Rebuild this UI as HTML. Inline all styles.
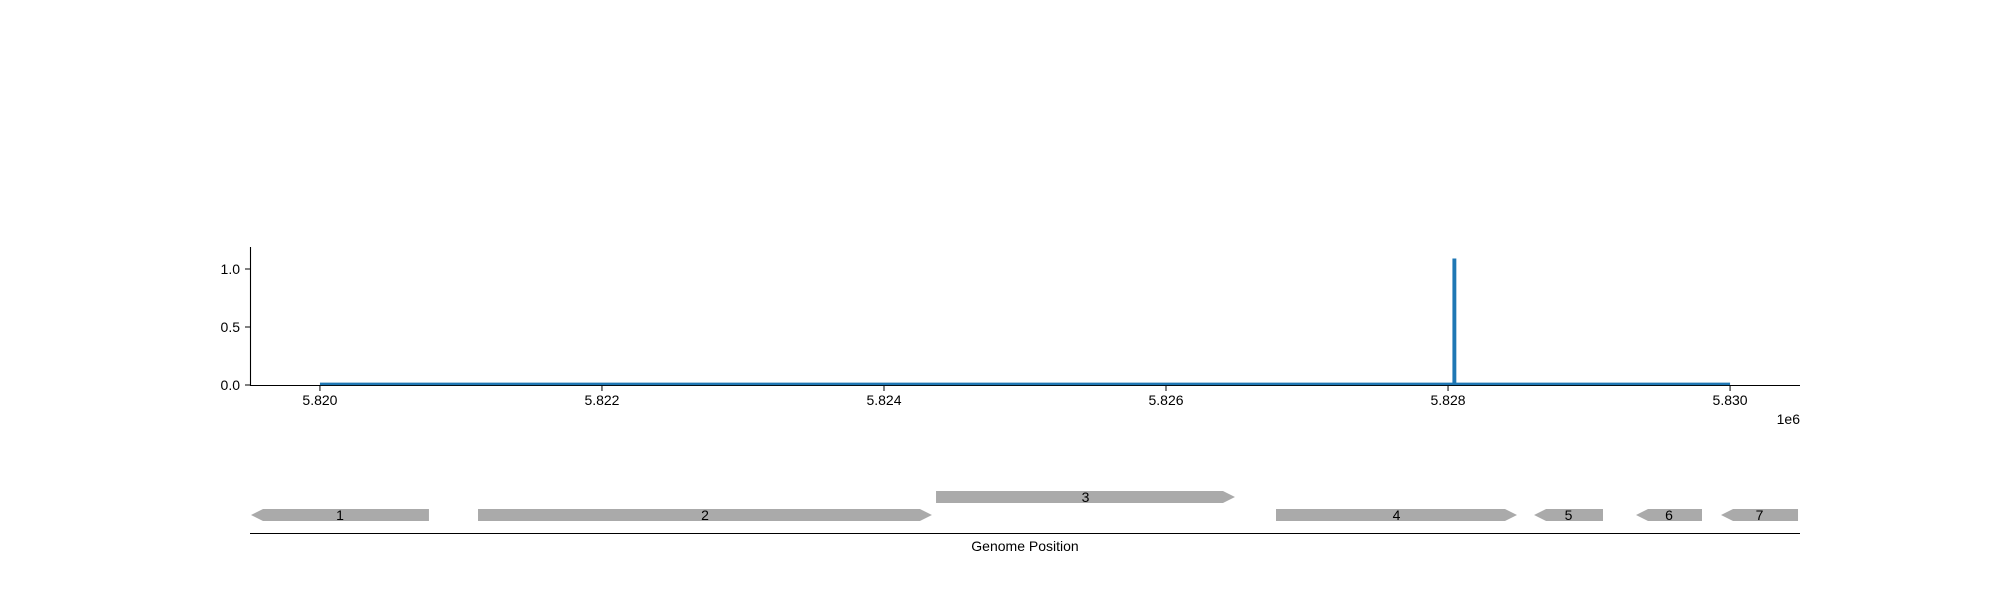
<!DOCTYPE html>
<html><head><meta charset="utf-8"><style>
html,body{margin:0;padding:0;background:#fff;width:2000px;height:600px;overflow:hidden}
svg text{font-family:"Liberation Sans","DejaVu Sans",sans-serif;font-size:14px;fill:#000}
</style></head><body>
<svg id="chart" width="2000" height="600" xmlns="http://www.w3.org/2000/svg"></svg>
<script>
const xTicks=[5820000,5822000,5824000,5826000,5828000,5830000];
const xTickLabels=["5.820","5.822","5.824","5.826","5.828","5.830"];
const yTicks=[0,0.5,1.0];
const yTickLabels=["0.0","0.5","1.0"];
const coverageX=[5820000,5828040,5828040,5828050,5828050,5830000];
const coverageY=[0.01,0.01,1.08,1.08,0.01,0.01];
const geneLabels=["1","2","3","4","5","6","7"];
const geneStarts=[5819511,5821121,5824369,5826780,5828610,5829333,5829936];
const geneEnds=[5820773,5824340,5826489,5828489,5829099,5829801,5830482];
const geneStrands=[-1,1,1,1,-1,-1,-1];
const geneRows=[0,0,1,0,0,0,0];

const svg=document.getElementById('chart');
const NS="http://www.w3.org/2000/svg";
const X0=250,X1=1800,D0=5819504,D1=5830496;
const x=v=>X0+(v-D0)/(D1-D0)*(X1-X0);
const y=v=>385-v*116;
function mk(t,a){const e=document.createElementNS(NS,t);for(const k in a)e.setAttribute(k,a[k]);svg.appendChild(e);return e;}

let e=mk('line',{x1:250.5,y1:247,x2:250.5,y2:386,stroke:'#000','stroke-width':1.1});


e=mk('line',{x1:250,y1:385.5,x2:1800,y2:385.5,stroke:'#000','stroke-width':1.1});



yTicks.forEach((t,i)=>{
 const l=mk('line',{x1:245,x2:250,y1:y(t),y2:y(t),stroke:'#000'});
 
 
 const tx=mk('text',{x:240,y:y(t)+5,'text-anchor':'end'});tx.textContent=yTickLabels[i];
 
 
});
xTicks.forEach((t,i)=>{
 const l=mk('line',{x1:x(t),x2:x(t),y1:386,y2:391,stroke:'#000'});
 
 
 const tx=mk('text',{x:x(t),y:405,'text-anchor':'middle'});tx.textContent=xTickLabels[i];
 
 
});
e=mk('text',{x:1800,y:424,'text-anchor':'end'});e.textContent='1e6';



const pts=coverageX.map((v,i)=>x(v)+','+y(coverageY[i])).join(' ');
e=mk('polyline',{points:pts,fill:'none',stroke:'#1f77b4','stroke-width':2.5});



geneLabels.forEach((g,i)=>{
 const a=x(geneStarts[i]),b=x(geneEnds[i]);
 const top=geneRows[i]?491:509,h=12,m=top+h/2,hl=12;
 let p;
 if(geneStrands[i]>0)p=`${a},${top} ${b-hl},${top} ${b},${m} ${b-hl},${top+h} ${a},${top+h}`;
 else p=`${a},${m} ${a+hl},${top} ${b},${top} ${b},${top+h} ${a+hl},${top+h}`;
 const s=mk('polygon',{points:p,fill:'#aaaaaa'});
 
 
 const t=mk('text',{x:(a+b)/2,y:m+5,'text-anchor':'middle'});t.textContent=g;
 
 
});
e=mk('line',{x1:250,x2:1800,y1:533.5,y2:533.5,stroke:'#000','stroke-width':1.1});


e=mk('text',{x:1025,y:551,'text-anchor':'middle'});e.textContent='Genome Position';


</script>
</body></html>
